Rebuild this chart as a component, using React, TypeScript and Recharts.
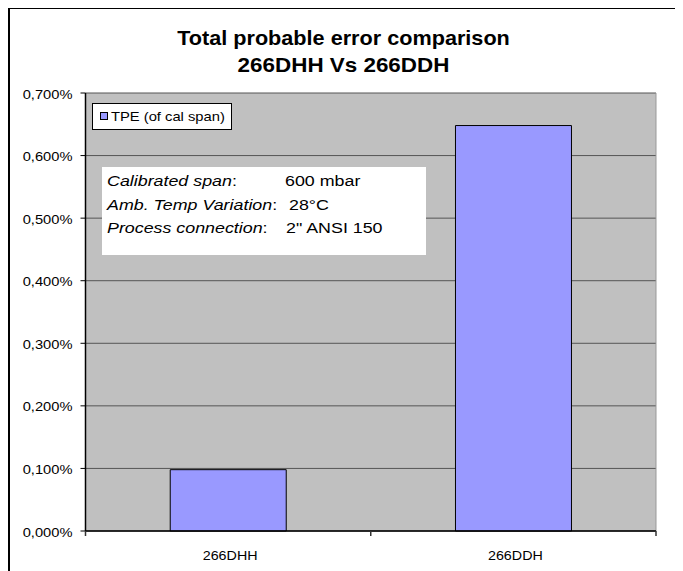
import React from 'react';
import { BarChart, Bar, XAxis, YAxis, CartesianGrid, Legend } from 'recharts';

const categories = ['266DHH', '266DDH'];
const tpeValues = [0.098, 0.648];
const yTicks = [0, 0.1, 0.2, 0.3, 0.4, 0.5, 0.6, 0.7];
const seriesName = 'TPE (of cal span)';
const titleLines = ['Total probable error comparison', '266DHH Vs 266DDH'];
const noteLabels = ['Calibrated span', 'Amb. Temp Variation', 'Process connection'];
const noteValues = ['600 mbar', '28°C', '2" ANSI 150'];

const data = categories.map((name, i) => ({ name, tpe: tpeValues[i] }));

const FONT = 'Arial, "Liberation Sans", sans-serif';
const fmt = (v: number) => v.toFixed(3).replace('.', ',') + '%';

function SText(props: any) {
  const { x, y, sx = 1.13, anchor = 'start', size = 13, weight = 'normal', children } = props;
  return (
    <text
      transform={`translate(${x},${y}) scale(${sx},1)`}
      x={0}
      y={0}
      textAnchor={anchor}
      fontSize={size}
      fontWeight={weight}
      fontFamily={FONT}
      fill="#000"
    >
      {children}
    </text>
  );
}

const YTick = (props: any) => {
  const { x, y, payload } = props;
  return (
    <SText x={x} y={y + 5.5} anchor="end" size={13} sx={1.13}>
      {fmt(payload.value)}
    </SText>
  );
};

// category label plus Excel-style tick marks on the category boundaries
const XTick = (props: any) => {
  const { x, y, payload, index, visibleTicksCount, width } = props;
  const count = visibleTicksCount || categories.length;
  const band = (Number(width) || 0) / count;
  const axisY = y - 8;
  const marks = [x - band / 2];
  if (index === count - 1) marks.push(x + band / 2);
  return (
    <g>
      {band > 0 &&
        marks.map((mx, k) => (
          <line key={k} x1={mx} x2={mx} y1={axisY} y2={axisY + 5} stroke="#333" strokeWidth={1.5} />
        ))}
      <SText x={x + 2} y={y + 21} anchor="middle" size={13} sx={1.1}>
        {payload.value}
      </SText>
    </g>
  );
};

const LegendBox = () => (
  <svg width={140} height={27} style={{ display: 'block' }}>
    <rect x={0.5} y={0.5} width={139} height={26} fill="#fff" stroke="#000" strokeWidth={1} />
    <rect x={8.5} y={9.5} width={7} height={7} fill="#9999FF" stroke="#000" strokeWidth={1} />
    <SText x={19} y={17.7} size={13} sx={1.135}>
      {seriesName}
    </SText>
  </svg>
);

const noteValueX = [275, 279, 276];
const noteBaselines = [177, 200.5, 223.5];

export default function App() {
  return (
    <div
      style={{
        position: 'relative',
        width: 668,
        height: 566,
        border: '2px solid #000',
        marginTop: -1,
        background: '#fff',
      }}
    >
      <BarChart
        width={668}
        height={562}
        data={data}
        margin={{ top: 84, right: 22, left: 0, bottom: 0 }}
        barCategoryGap="29.7%"
      >
        <CartesianGrid fill="#C0C0C0" fillOpacity={1} stroke="#555" vertical={false} />
        <CartesianGrid horizontal={false} vertical verticalPoints={[646]} stroke="#999" />
        <XAxis
          dataKey="name"
          axisLine={{ stroke: '#000', strokeWidth: 1.5 }}
          tickLine={false}
          tickSize={6}
          tickMargin={2}
          tick={<XTick />}
          interval={0}
          height={40}
        />
        <YAxis
          width={75.5}
          domain={[0, 0.7]}
          ticks={yTicks}
          axisLine={{ stroke: '#000', strokeWidth: 1.5 }}
          tickLine={{ stroke: '#000' }}
          tickSize={5}
          tickMargin={8}
          tick={<YTick />}
          interval={0}
        />
        <Legend
          layout="vertical"
          align="center"
          verticalAlign="middle"
          wrapperStyle={{ position: 'absolute', left: 82, top: 94, width: 140, height: 27 }}
          content={() => <LegendBox />}
        />
        <Bar
          dataKey="tpe"
          name={seriesName}
          fill="#9999FF"
          stroke="#000"
          strokeWidth={1}
          isAnimationActive={false}
        />
      </BarChart>
      <svg
        width={668}
        height={562}
        style={{ position: 'absolute', left: 0, top: 0, pointerEvents: 'none' }}
      >
        <SText x={333.5} y={36.2} anchor="middle" size={19.5} weight="bold" sx={1.11}>
          {titleLines[0]}
        </SText>
        <SText x={333.5} y={63} anchor="middle" size={19.5} weight="bold" sx={1.15}>
          {titleLines[1]}
        </SText>
        <rect x={92} y={158} width={324} height={88} fill="#fff" />
        {noteLabels.map((lab, i) => (
          <g key={lab}>
            <SText x={97} y={noteBaselines[i]} size={15} sx={1.19}>
              <tspan fontStyle="italic">{lab}</tspan>
              <tspan>:</tspan>
            </SText>
            <SText x={noteValueX[i]} y={noteBaselines[i]} size={15} sx={1.19}>
              {noteValues[i]}
            </SText>
          </g>
        ))}
      </svg>
    </div>
  );
}
